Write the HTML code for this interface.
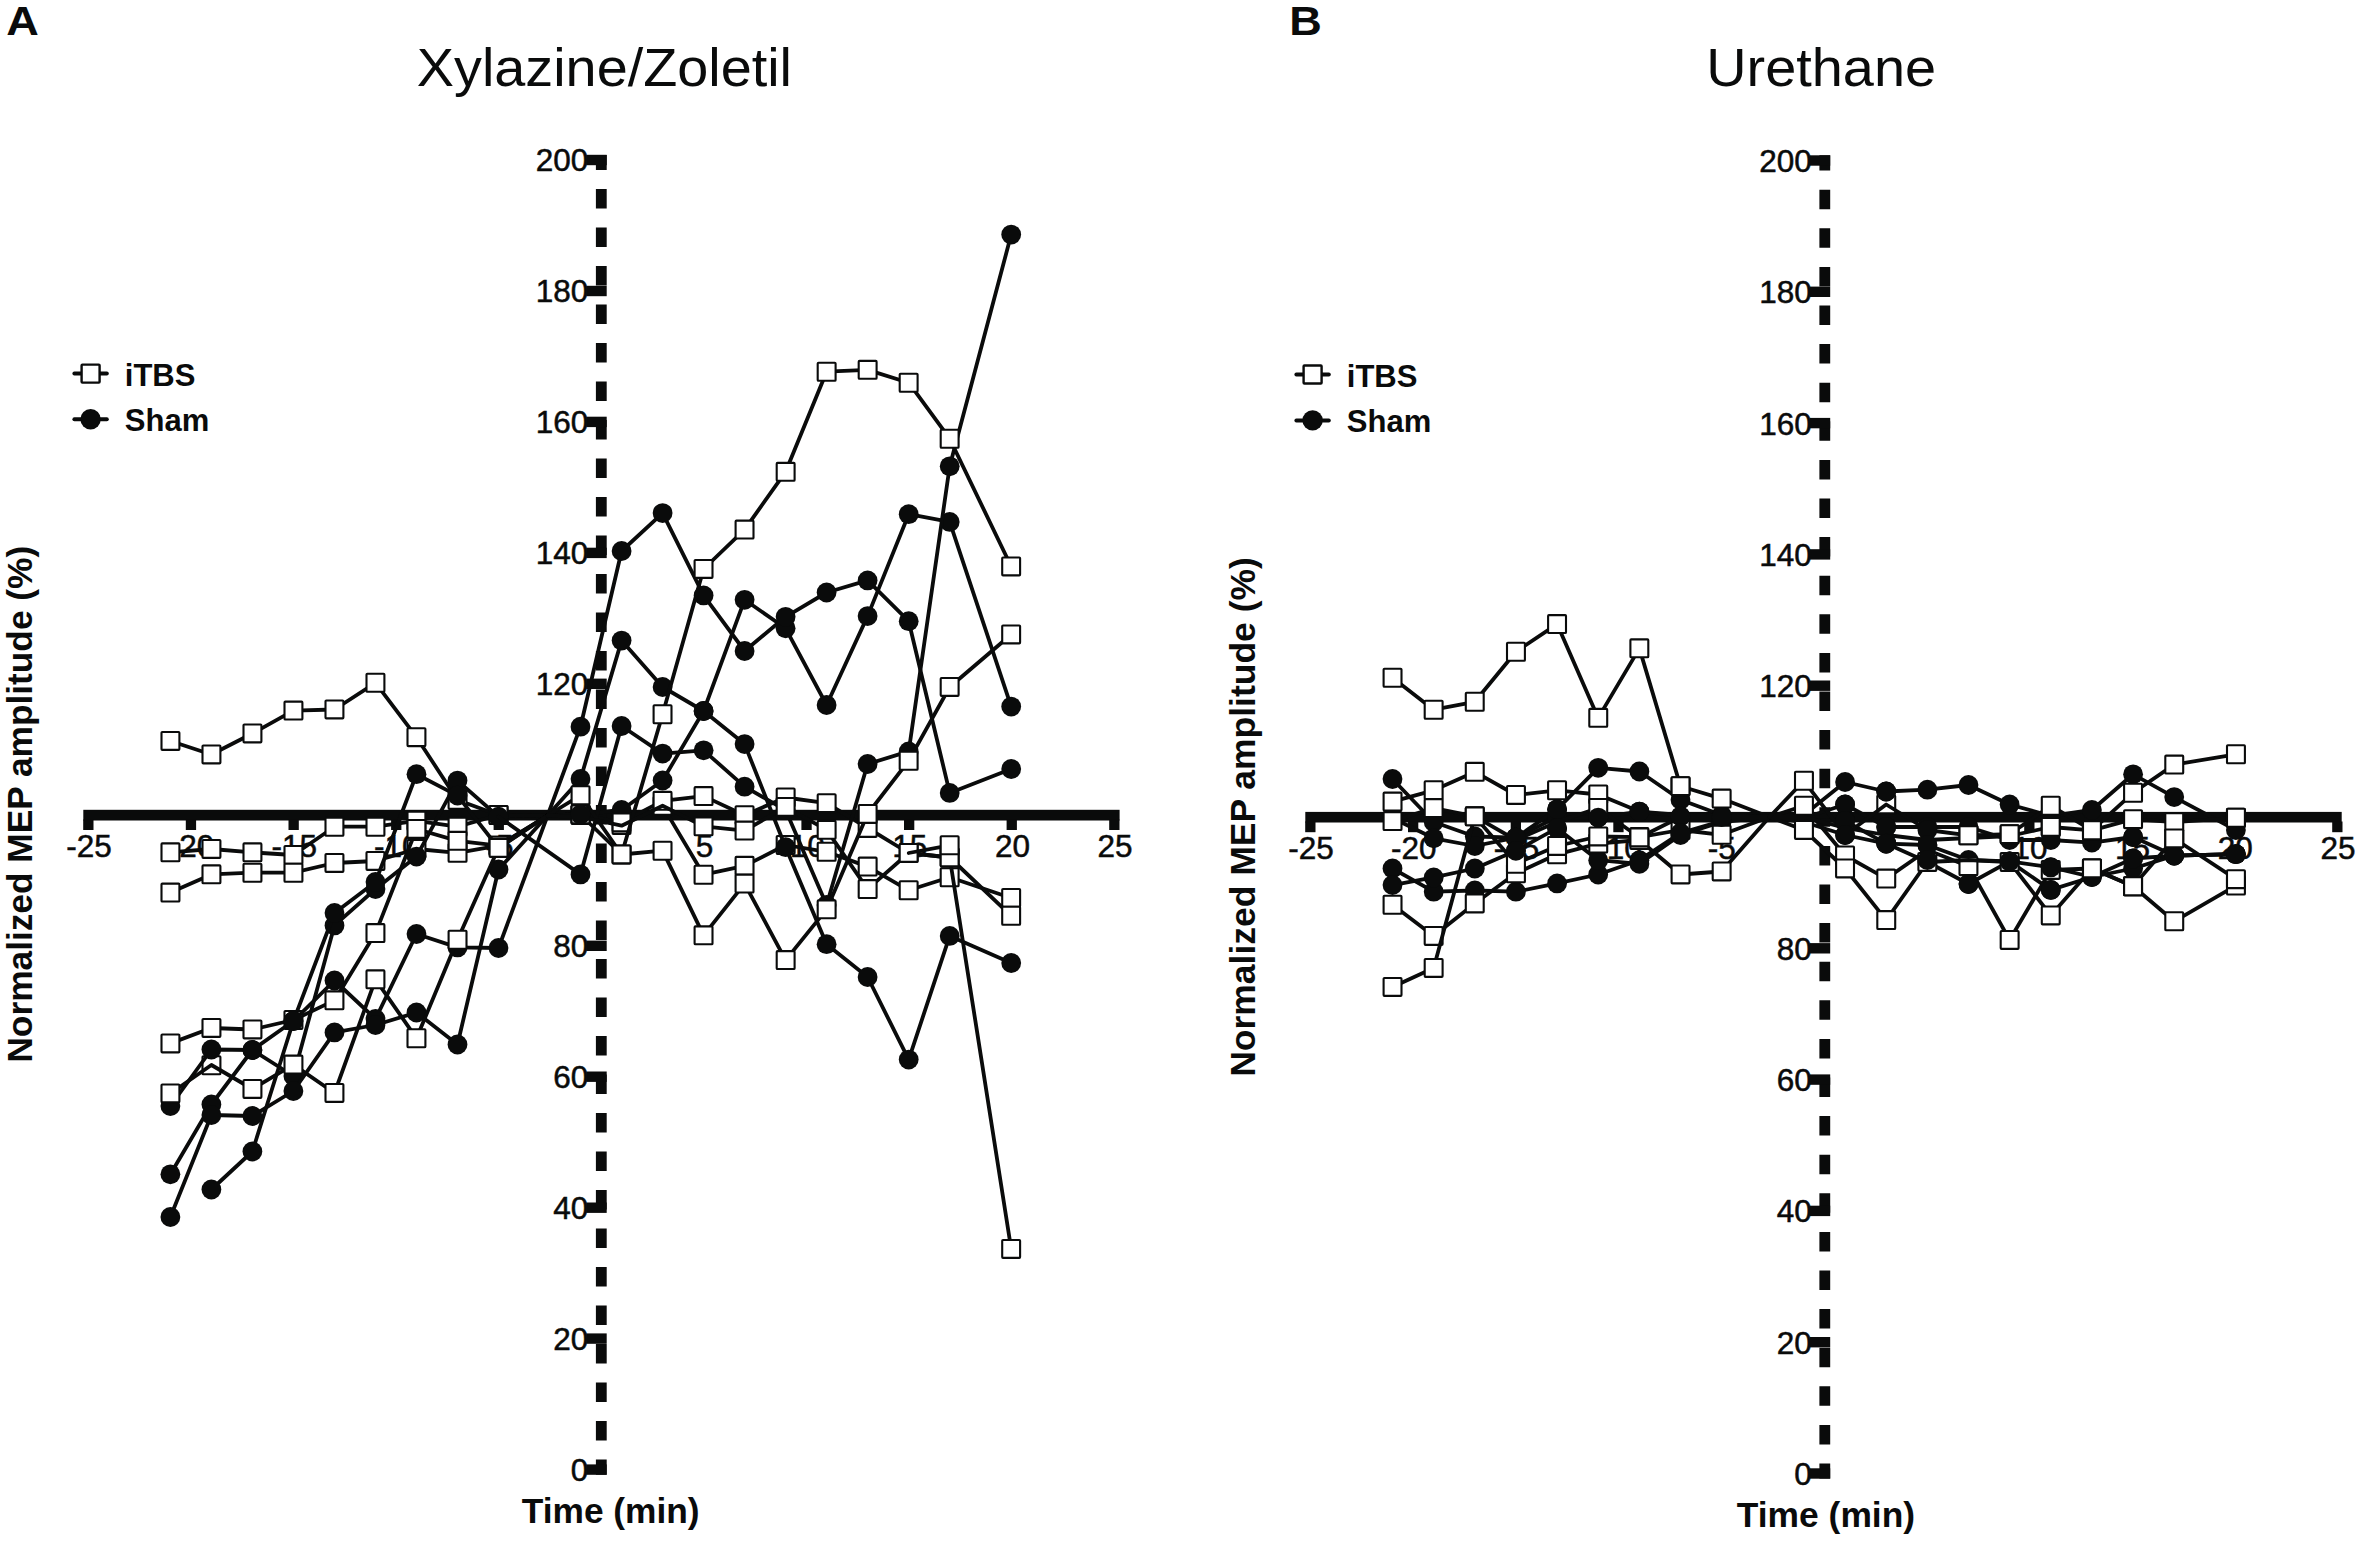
<!DOCTYPE html>
<html lang="en"><head><meta charset="utf-8"><title>Figure</title>
<style>html,body{margin:0;padding:0;background:#fff}body{width:2362px;height:1541px;position:relative;overflow:hidden}</style>
</head><body>
<svg width="2362" height="1541" viewBox="0 0 2362 1541" style="position:absolute;left:0;top:0">
<rect width="2362" height="1541" fill="#fff"/>
<g style="font-family:'Liberation Sans',sans-serif" fill="#0a0b0b">
<rect x="83.3" y="809.8" width="1036.3" height="10.7"/>
<rect x="83.2" y="819.5" width="10.3" height="10.5"/>
<text x="89.0" y="857.2" font-size="31.5" text-anchor="middle" stroke="#0a0b0b" stroke-width="0.5">-25</text>
<rect x="185.8" y="819.5" width="10.3" height="10.5"/>
<text x="191.6" y="857.2" font-size="31.5" text-anchor="middle" stroke="#0a0b0b" stroke-width="0.5">-20</text>
<rect x="288.5" y="819.5" width="10.3" height="10.5"/>
<text x="294.2" y="857.2" font-size="31.5" text-anchor="middle" stroke="#0a0b0b" stroke-width="0.5">-15</text>
<rect x="391.1" y="819.5" width="10.3" height="10.5"/>
<text x="396.8" y="857.2" font-size="31.5" text-anchor="middle" stroke="#0a0b0b" stroke-width="0.5">-10</text>
<rect x="493.6" y="819.5" width="10.3" height="10.5"/>
<text x="499.4" y="857.2" font-size="31.5" text-anchor="middle" stroke="#0a0b0b" stroke-width="0.5">-5</text>
<rect x="698.9" y="819.5" width="10.3" height="10.5"/>
<text x="704.6" y="857.2" font-size="31.5" text-anchor="middle" stroke="#0a0b0b" stroke-width="0.5">5</text>
<rect x="801.4" y="819.5" width="10.3" height="10.5"/>
<text x="807.2" y="857.2" font-size="31.5" text-anchor="middle" stroke="#0a0b0b" stroke-width="0.5">10</text>
<rect x="904.0" y="819.5" width="10.3" height="10.5"/>
<text x="909.8" y="857.2" font-size="31.5" text-anchor="middle" stroke="#0a0b0b" stroke-width="0.5">15</text>
<rect x="1006.6" y="819.5" width="10.3" height="10.5"/>
<text x="1012.4" y="857.2" font-size="31.5" text-anchor="middle" stroke="#0a0b0b" stroke-width="0.5">20</text>
<rect x="1109.2" y="819.5" width="10.3" height="10.5"/>
<text x="1115.0" y="857.2" font-size="31.5" text-anchor="middle" stroke="#0a0b0b" stroke-width="0.5">25</text>
<line x1="601.3" y1="154.9" x2="601.3" y2="1474.8" stroke="#0a0b0b" stroke-width="10.8" stroke-dasharray="19.5 19" stroke-dashoffset="4.4"/>
<rect x="586.2" y="1464.4" width="20.5" height="10.4"/>
<text x="588.2" y="1481.0" font-size="31.5" text-anchor="end" stroke="#0a0b0b" stroke-width="0.5">0</text>
<rect x="586.2" y="1333.4" width="20.5" height="10.4"/>
<text x="588.2" y="1350.0" font-size="31.5" text-anchor="end" stroke="#0a0b0b" stroke-width="0.5">20</text>
<rect x="586.2" y="1202.5" width="20.5" height="10.4"/>
<text x="588.2" y="1219.1" font-size="31.5" text-anchor="end" stroke="#0a0b0b" stroke-width="0.5">40</text>
<rect x="586.2" y="1071.5" width="20.5" height="10.4"/>
<text x="588.2" y="1088.1" font-size="31.5" text-anchor="end" stroke="#0a0b0b" stroke-width="0.5">60</text>
<rect x="586.2" y="940.6" width="20.5" height="10.4"/>
<text x="588.2" y="957.2" font-size="31.5" text-anchor="end" stroke="#0a0b0b" stroke-width="0.5">80</text>
<rect x="586.2" y="678.6" width="20.5" height="10.4"/>
<text x="588.2" y="695.2" font-size="31.5" text-anchor="end" stroke="#0a0b0b" stroke-width="0.5">120</text>
<rect x="586.2" y="547.7" width="20.5" height="10.4"/>
<text x="588.2" y="564.3" font-size="31.5" text-anchor="end" stroke="#0a0b0b" stroke-width="0.5">140</text>
<rect x="586.2" y="416.7" width="20.5" height="10.4"/>
<text x="588.2" y="433.3" font-size="31.5" text-anchor="end" stroke="#0a0b0b" stroke-width="0.5">160</text>
<rect x="586.2" y="285.8" width="20.5" height="10.4"/>
<text x="588.2" y="302.4" font-size="31.5" text-anchor="end" stroke="#0a0b0b" stroke-width="0.5">180</text>
<rect x="586.2" y="154.8" width="20.5" height="10.4"/>
<text x="588.2" y="171.4" font-size="31.5" text-anchor="end" stroke="#0a0b0b" stroke-width="0.5">200</text>
<rect x="1305.3" y="811.9" width="1036.4" height="10.6"/>
<rect x="1305.2" y="821.5" width="10.3" height="10.7"/>
<text x="1311.0" y="858.9" font-size="31.5" text-anchor="middle" stroke="#0a0b0b" stroke-width="0.5">-25</text>
<rect x="1408.0" y="821.5" width="10.3" height="10.7"/>
<text x="1413.7" y="858.9" font-size="31.5" text-anchor="middle" stroke="#0a0b0b" stroke-width="0.5">-20</text>
<rect x="1510.7" y="821.5" width="10.3" height="10.7"/>
<text x="1516.4" y="858.9" font-size="31.5" text-anchor="middle" stroke="#0a0b0b" stroke-width="0.5">-15</text>
<rect x="1613.3" y="821.5" width="10.3" height="10.7"/>
<text x="1619.1" y="858.9" font-size="31.5" text-anchor="middle" stroke="#0a0b0b" stroke-width="0.5">-10</text>
<rect x="1716.0" y="821.5" width="10.3" height="10.7"/>
<text x="1721.8" y="858.9" font-size="31.5" text-anchor="middle" stroke="#0a0b0b" stroke-width="0.5">-5</text>
<rect x="1921.4" y="821.5" width="10.3" height="10.7"/>
<text x="1927.2" y="858.9" font-size="31.5" text-anchor="middle" stroke="#0a0b0b" stroke-width="0.5">5</text>
<rect x="2024.2" y="821.5" width="10.3" height="10.7"/>
<text x="2029.9" y="858.9" font-size="31.5" text-anchor="middle" stroke="#0a0b0b" stroke-width="0.5">10</text>
<rect x="2126.8" y="821.5" width="10.3" height="10.7"/>
<text x="2132.6" y="858.9" font-size="31.5" text-anchor="middle" stroke="#0a0b0b" stroke-width="0.5">15</text>
<rect x="2229.5" y="821.5" width="10.3" height="10.7"/>
<text x="2235.3" y="858.9" font-size="31.5" text-anchor="middle" stroke="#0a0b0b" stroke-width="0.5">20</text>
<rect x="2332.2" y="821.5" width="10.3" height="10.7"/>
<text x="2338.0" y="858.9" font-size="31.5" text-anchor="middle" stroke="#0a0b0b" stroke-width="0.5">25</text>
<line x1="1824.8" y1="155.3" x2="1824.8" y2="1478.6" stroke="#0a0b0b" stroke-width="10.8" stroke-dasharray="19.5 19.1" stroke-dashoffset="4.2"/>
<rect x="1809.7" y="1468.3" width="20.5" height="10.4"/>
<text x="1811.7" y="1484.9" font-size="31.5" text-anchor="end" stroke="#0a0b0b" stroke-width="0.5">0</text>
<rect x="1809.7" y="1337.0" width="20.5" height="10.4"/>
<text x="1811.7" y="1353.6" font-size="31.5" text-anchor="end" stroke="#0a0b0b" stroke-width="0.5">20</text>
<rect x="1809.7" y="1205.7" width="20.5" height="10.4"/>
<text x="1811.7" y="1222.3" font-size="31.5" text-anchor="end" stroke="#0a0b0b" stroke-width="0.5">40</text>
<rect x="1809.7" y="1074.4" width="20.5" height="10.4"/>
<text x="1811.7" y="1091.0" font-size="31.5" text-anchor="end" stroke="#0a0b0b" stroke-width="0.5">60</text>
<rect x="1809.7" y="943.1" width="20.5" height="10.4"/>
<text x="1811.7" y="959.7" font-size="31.5" text-anchor="end" stroke="#0a0b0b" stroke-width="0.5">80</text>
<rect x="1809.7" y="680.5" width="20.5" height="10.4"/>
<text x="1811.7" y="697.1" font-size="31.5" text-anchor="end" stroke="#0a0b0b" stroke-width="0.5">120</text>
<rect x="1809.7" y="549.2" width="20.5" height="10.4"/>
<text x="1811.7" y="565.8" font-size="31.5" text-anchor="end" stroke="#0a0b0b" stroke-width="0.5">140</text>
<rect x="1809.7" y="417.9" width="20.5" height="10.4"/>
<text x="1811.7" y="434.5" font-size="31.5" text-anchor="end" stroke="#0a0b0b" stroke-width="0.5">160</text>
<rect x="1809.7" y="286.6" width="20.5" height="10.4"/>
<text x="1811.7" y="303.2" font-size="31.5" text-anchor="end" stroke="#0a0b0b" stroke-width="0.5">180</text>
<rect x="1809.7" y="155.3" width="20.5" height="10.4"/>
<text x="1811.7" y="171.9" font-size="31.5" text-anchor="end" stroke="#0a0b0b" stroke-width="0.5">200</text>
<text x="6.2" y="34.7" font-size="40" font-weight="bold" textLength="32.6" lengthAdjust="spacingAndGlyphs">A</text>
<text x="1289.2" y="34.7" font-size="40" font-weight="bold" textLength="32.6" lengthAdjust="spacingAndGlyphs">B</text>
<text x="416.8" y="85.8" font-size="54" textLength="375.2" lengthAdjust="spacingAndGlyphs">Xylazine/Zoletil</text>
<text x="1706.3" y="85.8" font-size="54" textLength="229.7" lengthAdjust="spacingAndGlyphs">Urethane</text>
<text x="521.8" y="1522.8" font-size="35" font-weight="bold" textLength="177.8" lengthAdjust="spacingAndGlyphs">Time (min)</text>
<text x="1736.8" y="1526.7" font-size="35" font-weight="bold" textLength="178.3" lengthAdjust="spacingAndGlyphs">Time (min)</text>
<text transform="translate(32.3,1062.6) rotate(-90)" font-size="35" font-weight="bold" textLength="516.8" lengthAdjust="spacingAndGlyphs">Normalized MEP amplitude (%)</text>
<text transform="translate(1254.5,1076.8) rotate(-90)" font-size="35" font-weight="bold" textLength="519.6" lengthAdjust="spacingAndGlyphs">Normalized MEP amplitude (%)</text>
<line x1="74.4" y1="373.6" x2="106.8" y2="373.6" stroke="#0a0b0b" stroke-width="4" stroke-linecap="round"/>
<rect x="81.6" y="364.6" width="18.0" height="18.0" rx="0.8" fill="#fff" stroke="#0a0b0b" stroke-width="2.4" stroke-linejoin="round"/>
<line x1="74.4" y1="419.2" x2="106.8" y2="419.2" stroke="#0a0b0b" stroke-width="4" stroke-linecap="round"/>
<circle cx="90.6" cy="419.2" r="10.2" fill="#0a0b0b"/>
<text x="124.8" y="385.9" font-size="31" font-weight="bold">iTBS</text>
<text x="124.8" y="431.0" font-size="31" font-weight="bold">Sham</text>
<line x1="1296.4" y1="374.5" x2="1328.8" y2="374.5" stroke="#0a0b0b" stroke-width="4" stroke-linecap="round"/>
<rect x="1303.6" y="365.5" width="18.0" height="18.0" rx="0.8" fill="#fff" stroke="#0a0b0b" stroke-width="2.4" stroke-linejoin="round"/>
<line x1="1296.4" y1="420.4" x2="1328.8" y2="420.4" stroke="#0a0b0b" stroke-width="4" stroke-linecap="round"/>
<circle cx="1312.6" cy="420.4" r="10.2" fill="#0a0b0b"/>
<text x="1346.8" y="386.8" font-size="31" font-weight="bold">iTBS</text>
<text x="1346.8" y="432.2" font-size="31" font-weight="bold">Sham</text>
<polyline points="211.4,1065.3" fill="none" stroke="#0a0b0b" stroke-width="3.8" stroke-linejoin="round" stroke-linecap="round"/>
<rect x="202.5" y="1056.3" width="17.9" height="17.9" rx="0.8" fill="#fff" stroke="#0a0b0b" stroke-width="2.1" stroke-linejoin="round"/>
<polyline points="170.4,741.0 211.4,754.5 252.4,733.5 293.4,710.6 334.5,709.5 375.5,682.8 416.5,737.2 457.5,800.0 498.5,815.0 547.6,815.5" fill="none" stroke="#0a0b0b" stroke-width="3.8" stroke-linejoin="round" stroke-linecap="round"/>
<rect x="161.5" y="732.0" width="17.9" height="17.9" rx="0.8" fill="#fff" stroke="#0a0b0b" stroke-width="2.1" stroke-linejoin="round"/>
<rect x="202.5" y="745.5" width="17.9" height="17.9" rx="0.8" fill="#fff" stroke="#0a0b0b" stroke-width="2.1" stroke-linejoin="round"/>
<rect x="243.5" y="724.5" width="17.9" height="17.9" rx="0.8" fill="#fff" stroke="#0a0b0b" stroke-width="2.1" stroke-linejoin="round"/>
<rect x="284.5" y="701.6" width="17.9" height="17.9" rx="0.8" fill="#fff" stroke="#0a0b0b" stroke-width="2.1" stroke-linejoin="round"/>
<rect x="325.5" y="700.5" width="17.9" height="17.9" rx="0.8" fill="#fff" stroke="#0a0b0b" stroke-width="2.1" stroke-linejoin="round"/>
<rect x="366.5" y="673.8" width="17.9" height="17.9" rx="0.8" fill="#fff" stroke="#0a0b0b" stroke-width="2.1" stroke-linejoin="round"/>
<rect x="407.5" y="728.2" width="17.9" height="17.9" rx="0.8" fill="#fff" stroke="#0a0b0b" stroke-width="2.1" stroke-linejoin="round"/>
<rect x="448.6" y="791.0" width="17.9" height="17.9" rx="0.8" fill="#fff" stroke="#0a0b0b" stroke-width="2.1" stroke-linejoin="round"/>
<rect x="489.6" y="806.0" width="17.9" height="17.9" rx="0.8" fill="#fff" stroke="#0a0b0b" stroke-width="2.1" stroke-linejoin="round"/>
<polyline points="170.4,852.4 211.4,849.0 252.4,852.4 293.4,855.0 334.5,826.7 375.5,826.7 416.5,820.8 457.5,826.7 498.5,815.0 547.6,815.5" fill="none" stroke="#0a0b0b" stroke-width="3.8" stroke-linejoin="round" stroke-linecap="round"/>
<rect x="161.5" y="843.4" width="17.9" height="17.9" rx="0.8" fill="#fff" stroke="#0a0b0b" stroke-width="2.1" stroke-linejoin="round"/>
<rect x="202.5" y="840.0" width="17.9" height="17.9" rx="0.8" fill="#fff" stroke="#0a0b0b" stroke-width="2.1" stroke-linejoin="round"/>
<rect x="243.5" y="843.4" width="17.9" height="17.9" rx="0.8" fill="#fff" stroke="#0a0b0b" stroke-width="2.1" stroke-linejoin="round"/>
<rect x="284.5" y="846.0" width="17.9" height="17.9" rx="0.8" fill="#fff" stroke="#0a0b0b" stroke-width="2.1" stroke-linejoin="round"/>
<rect x="325.5" y="817.8" width="17.9" height="17.9" rx="0.8" fill="#fff" stroke="#0a0b0b" stroke-width="2.1" stroke-linejoin="round"/>
<rect x="366.5" y="817.8" width="17.9" height="17.9" rx="0.8" fill="#fff" stroke="#0a0b0b" stroke-width="2.1" stroke-linejoin="round"/>
<rect x="407.5" y="811.8" width="17.9" height="17.9" rx="0.8" fill="#fff" stroke="#0a0b0b" stroke-width="2.1" stroke-linejoin="round"/>
<rect x="448.6" y="817.8" width="17.9" height="17.9" rx="0.8" fill="#fff" stroke="#0a0b0b" stroke-width="2.1" stroke-linejoin="round"/>
<rect x="489.6" y="806.0" width="17.9" height="17.9" rx="0.8" fill="#fff" stroke="#0a0b0b" stroke-width="2.1" stroke-linejoin="round"/>
<polyline points="170.4,892.6 211.4,874.4 252.4,872.7 293.4,872.7 334.5,863.0 375.5,861.0 416.5,849.0 457.5,852.8 498.5,845.7 547.6,815.5" fill="none" stroke="#0a0b0b" stroke-width="3.8" stroke-linejoin="round" stroke-linecap="round"/>
<rect x="161.5" y="883.6" width="17.9" height="17.9" rx="0.8" fill="#fff" stroke="#0a0b0b" stroke-width="2.1" stroke-linejoin="round"/>
<rect x="202.5" y="865.4" width="17.9" height="17.9" rx="0.8" fill="#fff" stroke="#0a0b0b" stroke-width="2.1" stroke-linejoin="round"/>
<rect x="243.5" y="863.8" width="17.9" height="17.9" rx="0.8" fill="#fff" stroke="#0a0b0b" stroke-width="2.1" stroke-linejoin="round"/>
<rect x="284.5" y="863.8" width="17.9" height="17.9" rx="0.8" fill="#fff" stroke="#0a0b0b" stroke-width="2.1" stroke-linejoin="round"/>
<rect x="325.5" y="854.0" width="17.9" height="17.9" rx="0.8" fill="#fff" stroke="#0a0b0b" stroke-width="2.1" stroke-linejoin="round"/>
<rect x="366.5" y="852.0" width="17.9" height="17.9" rx="0.8" fill="#fff" stroke="#0a0b0b" stroke-width="2.1" stroke-linejoin="round"/>
<rect x="407.5" y="840.0" width="17.9" height="17.9" rx="0.8" fill="#fff" stroke="#0a0b0b" stroke-width="2.1" stroke-linejoin="round"/>
<rect x="448.6" y="843.8" width="17.9" height="17.9" rx="0.8" fill="#fff" stroke="#0a0b0b" stroke-width="2.1" stroke-linejoin="round"/>
<rect x="489.6" y="836.8" width="17.9" height="17.9" rx="0.8" fill="#fff" stroke="#0a0b0b" stroke-width="2.1" stroke-linejoin="round"/>
<polyline points="170.4,1043.4 211.4,1028.0 252.4,1029.5 293.4,1020.0 334.5,1000.4 375.5,933.1 416.5,829.0 457.5,840.9 498.5,845.7 547.6,815.5" fill="none" stroke="#0a0b0b" stroke-width="3.8" stroke-linejoin="round" stroke-linecap="round"/>
<rect x="161.5" y="1034.5" width="17.9" height="17.9" rx="0.8" fill="#fff" stroke="#0a0b0b" stroke-width="2.1" stroke-linejoin="round"/>
<rect x="202.5" y="1019.0" width="17.9" height="17.9" rx="0.8" fill="#fff" stroke="#0a0b0b" stroke-width="2.1" stroke-linejoin="round"/>
<rect x="243.5" y="1020.5" width="17.9" height="17.9" rx="0.8" fill="#fff" stroke="#0a0b0b" stroke-width="2.1" stroke-linejoin="round"/>
<rect x="284.5" y="1011.0" width="17.9" height="17.9" rx="0.8" fill="#fff" stroke="#0a0b0b" stroke-width="2.1" stroke-linejoin="round"/>
<rect x="325.5" y="991.4" width="17.9" height="17.9" rx="0.8" fill="#fff" stroke="#0a0b0b" stroke-width="2.1" stroke-linejoin="round"/>
<rect x="366.5" y="924.1" width="17.9" height="17.9" rx="0.8" fill="#fff" stroke="#0a0b0b" stroke-width="2.1" stroke-linejoin="round"/>
<rect x="407.5" y="820.0" width="17.9" height="17.9" rx="0.8" fill="#fff" stroke="#0a0b0b" stroke-width="2.1" stroke-linejoin="round"/>
<rect x="448.6" y="831.9" width="17.9" height="17.9" rx="0.8" fill="#fff" stroke="#0a0b0b" stroke-width="2.1" stroke-linejoin="round"/>
<rect x="489.6" y="836.8" width="17.9" height="17.9" rx="0.8" fill="#fff" stroke="#0a0b0b" stroke-width="2.1" stroke-linejoin="round"/>
<polyline points="547.6,815.5 580.5,814.5 621.6,810.0 662.6,780.5 703.6,711.0 744.6,599.8 785.6,628.3 826.6,705.0 867.6,616.1 908.7,514.2 949.7,521.9 1011.2,706.6" fill="none" stroke="#0a0b0b" stroke-width="3.8" stroke-linejoin="round" stroke-linecap="round"/>
<circle cx="580.5" cy="814.5" r="9.9" fill="#0a0b0b"/>
<circle cx="621.6" cy="810.0" r="9.9" fill="#0a0b0b"/>
<circle cx="662.6" cy="780.5" r="9.9" fill="#0a0b0b"/>
<circle cx="703.6" cy="711.0" r="9.9" fill="#0a0b0b"/>
<circle cx="744.6" cy="599.8" r="9.9" fill="#0a0b0b"/>
<circle cx="785.6" cy="628.3" r="9.9" fill="#0a0b0b"/>
<circle cx="826.6" cy="705.0" r="9.9" fill="#0a0b0b"/>
<circle cx="867.6" cy="616.1" r="9.9" fill="#0a0b0b"/>
<circle cx="908.7" cy="514.2" r="9.9" fill="#0a0b0b"/>
<circle cx="949.7" cy="521.9" r="9.9" fill="#0a0b0b"/>
<circle cx="1011.2" cy="706.6" r="9.9" fill="#0a0b0b"/>
<polyline points="547.6,815.5 580.5,726.7 621.6,551.0 662.6,513.1 703.6,595.4 744.6,651.0 785.6,616.8 826.6,592.5 867.6,580.4 908.7,621.2 949.7,792.9 1011.2,769.0" fill="none" stroke="#0a0b0b" stroke-width="3.8" stroke-linejoin="round" stroke-linecap="round"/>
<circle cx="580.5" cy="726.7" r="9.9" fill="#0a0b0b"/>
<circle cx="621.6" cy="551.0" r="9.9" fill="#0a0b0b"/>
<circle cx="662.6" cy="513.1" r="9.9" fill="#0a0b0b"/>
<circle cx="703.6" cy="595.4" r="9.9" fill="#0a0b0b"/>
<circle cx="744.6" cy="651.0" r="9.9" fill="#0a0b0b"/>
<circle cx="785.6" cy="616.8" r="9.9" fill="#0a0b0b"/>
<circle cx="826.6" cy="592.5" r="9.9" fill="#0a0b0b"/>
<circle cx="867.6" cy="580.4" r="9.9" fill="#0a0b0b"/>
<circle cx="908.7" cy="621.2" r="9.9" fill="#0a0b0b"/>
<circle cx="949.7" cy="792.9" r="9.9" fill="#0a0b0b"/>
<circle cx="1011.2" cy="769.0" r="9.9" fill="#0a0b0b"/>
<polyline points="547.6,815.5 580.5,815.0 621.6,825.0 662.6,805.9 703.6,874.7 744.6,865.9 785.6,845.0 826.6,851.8 867.6,866.6 908.7,890.3 949.7,877.3 1011.2,898.0" fill="none" stroke="#0a0b0b" stroke-width="3.8" stroke-linejoin="round" stroke-linecap="round"/>
<rect x="571.6" y="806.0" width="17.9" height="17.9" rx="0.8" fill="#fff" stroke="#0a0b0b" stroke-width="2.1" stroke-linejoin="round"/>
<rect x="612.6" y="816.0" width="17.9" height="17.9" rx="0.8" fill="#fff" stroke="#0a0b0b" stroke-width="2.1" stroke-linejoin="round"/>
<rect x="653.6" y="796.9" width="17.9" height="17.9" rx="0.8" fill="#fff" stroke="#0a0b0b" stroke-width="2.1" stroke-linejoin="round"/>
<rect x="694.6" y="865.8" width="17.9" height="17.9" rx="0.8" fill="#fff" stroke="#0a0b0b" stroke-width="2.1" stroke-linejoin="round"/>
<rect x="735.6" y="856.9" width="17.9" height="17.9" rx="0.8" fill="#fff" stroke="#0a0b0b" stroke-width="2.1" stroke-linejoin="round"/>
<rect x="776.7" y="836.0" width="17.9" height="17.9" rx="0.8" fill="#fff" stroke="#0a0b0b" stroke-width="2.1" stroke-linejoin="round"/>
<rect x="817.7" y="842.8" width="17.9" height="17.9" rx="0.8" fill="#fff" stroke="#0a0b0b" stroke-width="2.1" stroke-linejoin="round"/>
<rect x="858.7" y="857.6" width="17.9" height="17.9" rx="0.8" fill="#fff" stroke="#0a0b0b" stroke-width="2.1" stroke-linejoin="round"/>
<rect x="899.7" y="881.3" width="17.9" height="17.9" rx="0.8" fill="#fff" stroke="#0a0b0b" stroke-width="2.1" stroke-linejoin="round"/>
<rect x="940.7" y="868.3" width="17.9" height="17.9" rx="0.8" fill="#fff" stroke="#0a0b0b" stroke-width="2.1" stroke-linejoin="round"/>
<rect x="1002.2" y="889.0" width="17.9" height="17.9" rx="0.8" fill="#fff" stroke="#0a0b0b" stroke-width="2.1" stroke-linejoin="round"/>
<polyline points="547.6,815.5 580.5,814.5 621.6,822.5 662.6,800.9 703.6,796.1 744.6,815.2 785.6,797.5 826.6,803.2 867.6,828.0 908.7,853.0 949.7,857.5 1011.2,1249.0" fill="none" stroke="#0a0b0b" stroke-width="3.8" stroke-linejoin="round" stroke-linecap="round"/>
<rect x="571.6" y="805.5" width="17.9" height="17.9" rx="0.8" fill="#fff" stroke="#0a0b0b" stroke-width="2.1" stroke-linejoin="round"/>
<rect x="612.6" y="813.5" width="17.9" height="17.9" rx="0.8" fill="#fff" stroke="#0a0b0b" stroke-width="2.1" stroke-linejoin="round"/>
<rect x="653.6" y="791.9" width="17.9" height="17.9" rx="0.8" fill="#fff" stroke="#0a0b0b" stroke-width="2.1" stroke-linejoin="round"/>
<rect x="694.6" y="787.1" width="17.9" height="17.9" rx="0.8" fill="#fff" stroke="#0a0b0b" stroke-width="2.1" stroke-linejoin="round"/>
<rect x="735.6" y="806.2" width="17.9" height="17.9" rx="0.8" fill="#fff" stroke="#0a0b0b" stroke-width="2.1" stroke-linejoin="round"/>
<rect x="776.7" y="788.5" width="17.9" height="17.9" rx="0.8" fill="#fff" stroke="#0a0b0b" stroke-width="2.1" stroke-linejoin="round"/>
<rect x="817.7" y="794.2" width="17.9" height="17.9" rx="0.8" fill="#fff" stroke="#0a0b0b" stroke-width="2.1" stroke-linejoin="round"/>
<rect x="858.7" y="819.0" width="17.9" height="17.9" rx="0.8" fill="#fff" stroke="#0a0b0b" stroke-width="2.1" stroke-linejoin="round"/>
<rect x="899.7" y="844.0" width="17.9" height="17.9" rx="0.8" fill="#fff" stroke="#0a0b0b" stroke-width="2.1" stroke-linejoin="round"/>
<rect x="940.7" y="848.5" width="17.9" height="17.9" rx="0.8" fill="#fff" stroke="#0a0b0b" stroke-width="2.1" stroke-linejoin="round"/>
<rect x="1002.2" y="1240.0" width="17.9" height="17.9" rx="0.8" fill="#fff" stroke="#0a0b0b" stroke-width="2.1" stroke-linejoin="round"/>
<polyline points="170.4,1106.0 211.4,1049.5 252.4,1050.0 293.4,1076.0 334.5,925.4 375.5,889.0 416.5,856.6 457.5,780.6 498.5,816.7" fill="none" stroke="#0a0b0b" stroke-width="3.8" stroke-linejoin="round" stroke-linecap="round"/>
<circle cx="170.4" cy="1106.0" r="9.9" fill="#0a0b0b"/>
<circle cx="211.4" cy="1049.5" r="9.9" fill="#0a0b0b"/>
<circle cx="252.4" cy="1050.0" r="9.9" fill="#0a0b0b"/>
<circle cx="293.4" cy="1076.0" r="9.9" fill="#0a0b0b"/>
<circle cx="334.5" cy="925.4" r="9.9" fill="#0a0b0b"/>
<circle cx="375.5" cy="889.0" r="9.9" fill="#0a0b0b"/>
<circle cx="416.5" cy="856.6" r="9.9" fill="#0a0b0b"/>
<circle cx="457.5" cy="780.6" r="9.9" fill="#0a0b0b"/>
<circle cx="498.5" cy="816.7" r="9.9" fill="#0a0b0b"/>
<polyline points="170.4,1174.3 211.4,1104.5 252.4,1050.0 293.4,1021.0 334.5,980.5 375.5,1019.0 416.5,934.0 457.5,947.4 498.5,948.0 547.6,815.5" fill="none" stroke="#0a0b0b" stroke-width="3.8" stroke-linejoin="round" stroke-linecap="round"/>
<circle cx="170.4" cy="1174.3" r="9.9" fill="#0a0b0b"/>
<circle cx="211.4" cy="1104.5" r="9.9" fill="#0a0b0b"/>
<circle cx="252.4" cy="1050.0" r="9.9" fill="#0a0b0b"/>
<circle cx="293.4" cy="1021.0" r="9.9" fill="#0a0b0b"/>
<circle cx="334.5" cy="980.5" r="9.9" fill="#0a0b0b"/>
<circle cx="375.5" cy="1019.0" r="9.9" fill="#0a0b0b"/>
<circle cx="416.5" cy="934.0" r="9.9" fill="#0a0b0b"/>
<circle cx="457.5" cy="947.4" r="9.9" fill="#0a0b0b"/>
<circle cx="498.5" cy="948.0" r="9.9" fill="#0a0b0b"/>
<polyline points="211.4,1189.5 252.4,1151.5 293.4,1021.0 334.5,913.0 375.5,882.0 416.5,774.2 457.5,795.6 498.5,848.0 547.6,815.5" fill="none" stroke="#0a0b0b" stroke-width="3.8" stroke-linejoin="round" stroke-linecap="round"/>
<circle cx="211.4" cy="1189.5" r="9.9" fill="#0a0b0b"/>
<circle cx="252.4" cy="1151.5" r="9.9" fill="#0a0b0b"/>
<circle cx="293.4" cy="1021.0" r="9.9" fill="#0a0b0b"/>
<circle cx="334.5" cy="913.0" r="9.9" fill="#0a0b0b"/>
<circle cx="375.5" cy="882.0" r="9.9" fill="#0a0b0b"/>
<circle cx="416.5" cy="774.2" r="9.9" fill="#0a0b0b"/>
<circle cx="457.5" cy="795.6" r="9.9" fill="#0a0b0b"/>
<circle cx="498.5" cy="848.0" r="9.9" fill="#0a0b0b"/>
<polyline points="170.4,1217.0 211.4,1115.0 252.4,1116.0 293.4,1091.0 334.5,1032.4 375.5,1025.0 416.5,1012.5 457.5,1044.5 498.5,869.5 547.6,815.5" fill="none" stroke="#0a0b0b" stroke-width="3.8" stroke-linejoin="round" stroke-linecap="round"/>
<circle cx="170.4" cy="1217.0" r="9.9" fill="#0a0b0b"/>
<circle cx="211.4" cy="1115.0" r="9.9" fill="#0a0b0b"/>
<circle cx="252.4" cy="1116.0" r="9.9" fill="#0a0b0b"/>
<circle cx="293.4" cy="1091.0" r="9.9" fill="#0a0b0b"/>
<circle cx="334.5" cy="1032.4" r="9.9" fill="#0a0b0b"/>
<circle cx="375.5" cy="1025.0" r="9.9" fill="#0a0b0b"/>
<circle cx="416.5" cy="1012.5" r="9.9" fill="#0a0b0b"/>
<circle cx="457.5" cy="1044.5" r="9.9" fill="#0a0b0b"/>
<circle cx="498.5" cy="869.5" r="9.9" fill="#0a0b0b"/>
<polyline points="547.6,815.5 580.5,779.0 621.6,640.6 662.6,687.0 703.6,711.0 744.6,744.1 785.6,847.2 826.6,944.2 867.6,977.0 908.7,1059.6 949.7,935.9 1011.2,963.0" fill="none" stroke="#0a0b0b" stroke-width="3.8" stroke-linejoin="round" stroke-linecap="round"/>
<circle cx="580.5" cy="779.0" r="9.9" fill="#0a0b0b"/>
<circle cx="621.6" cy="640.6" r="9.9" fill="#0a0b0b"/>
<circle cx="662.6" cy="687.0" r="9.9" fill="#0a0b0b"/>
<circle cx="703.6" cy="711.0" r="9.9" fill="#0a0b0b"/>
<circle cx="744.6" cy="744.1" r="9.9" fill="#0a0b0b"/>
<circle cx="785.6" cy="847.2" r="9.9" fill="#0a0b0b"/>
<circle cx="826.6" cy="944.2" r="9.9" fill="#0a0b0b"/>
<circle cx="867.6" cy="977.0" r="9.9" fill="#0a0b0b"/>
<circle cx="908.7" cy="1059.6" r="9.9" fill="#0a0b0b"/>
<circle cx="949.7" cy="935.9" r="9.9" fill="#0a0b0b"/>
<circle cx="1011.2" cy="963.0" r="9.9" fill="#0a0b0b"/>
<polyline points="498.5,816.7 580.5,874.4 621.6,726.0 662.6,753.6 703.6,750.3 744.6,786.7 785.6,810.0 826.6,905.0 867.6,764.0 908.7,751.4 949.7,466.3 1011.2,234.6" fill="none" stroke="#0a0b0b" stroke-width="3.8" stroke-linejoin="round" stroke-linecap="round"/>
<circle cx="580.5" cy="874.4" r="9.9" fill="#0a0b0b"/>
<circle cx="621.6" cy="726.0" r="9.9" fill="#0a0b0b"/>
<circle cx="662.6" cy="753.6" r="9.9" fill="#0a0b0b"/>
<circle cx="703.6" cy="750.3" r="9.9" fill="#0a0b0b"/>
<circle cx="744.6" cy="786.7" r="9.9" fill="#0a0b0b"/>
<circle cx="785.6" cy="810.0" r="9.9" fill="#0a0b0b"/>
<circle cx="826.6" cy="905.0" r="9.9" fill="#0a0b0b"/>
<circle cx="867.6" cy="764.0" r="9.9" fill="#0a0b0b"/>
<circle cx="908.7" cy="751.4" r="9.9" fill="#0a0b0b"/>
<circle cx="949.7" cy="466.3" r="9.9" fill="#0a0b0b"/>
<circle cx="1011.2" cy="234.6" r="9.9" fill="#0a0b0b"/>
<polyline points="170.4,1093.5 211.4,1065.0 252.4,1089.0 293.4,1064.6 334.5,1093.0 375.5,979.4 416.5,1038.3 457.5,939.7 498.5,848.0 547.6,815.5" fill="none" stroke="#0a0b0b" stroke-width="3.8" stroke-linejoin="round" stroke-linecap="round"/>
<rect x="161.5" y="1084.5" width="17.9" height="17.9" rx="0.8" fill="#fff" stroke="#0a0b0b" stroke-width="2.1" stroke-linejoin="round"/>
<rect x="243.5" y="1080.0" width="17.9" height="17.9" rx="0.8" fill="#fff" stroke="#0a0b0b" stroke-width="2.1" stroke-linejoin="round"/>
<rect x="284.5" y="1055.6" width="17.9" height="17.9" rx="0.8" fill="#fff" stroke="#0a0b0b" stroke-width="2.1" stroke-linejoin="round"/>
<rect x="325.5" y="1084.0" width="17.9" height="17.9" rx="0.8" fill="#fff" stroke="#0a0b0b" stroke-width="2.1" stroke-linejoin="round"/>
<rect x="366.5" y="970.4" width="17.9" height="17.9" rx="0.8" fill="#fff" stroke="#0a0b0b" stroke-width="2.1" stroke-linejoin="round"/>
<rect x="407.5" y="1029.3" width="17.9" height="17.9" rx="0.8" fill="#fff" stroke="#0a0b0b" stroke-width="2.1" stroke-linejoin="round"/>
<rect x="448.6" y="930.8" width="17.9" height="17.9" rx="0.8" fill="#fff" stroke="#0a0b0b" stroke-width="2.1" stroke-linejoin="round"/>
<rect x="489.6" y="839.0" width="17.9" height="17.9" rx="0.8" fill="#fff" stroke="#0a0b0b" stroke-width="2.1" stroke-linejoin="round"/>
<polyline points="547.6,815.5 580.5,814.5 621.6,854.5 662.6,850.7 703.6,935.4 744.6,883.6 785.6,960.1 826.6,909.4 867.6,814.0 908.7,760.7 949.7,687.0 1011.2,634.5" fill="none" stroke="#0a0b0b" stroke-width="3.8" stroke-linejoin="round" stroke-linecap="round"/>
<rect x="571.6" y="805.5" width="17.9" height="17.9" rx="0.8" fill="#fff" stroke="#0a0b0b" stroke-width="2.1" stroke-linejoin="round"/>
<rect x="612.6" y="845.5" width="17.9" height="17.9" rx="0.8" fill="#fff" stroke="#0a0b0b" stroke-width="2.1" stroke-linejoin="round"/>
<rect x="653.6" y="841.8" width="17.9" height="17.9" rx="0.8" fill="#fff" stroke="#0a0b0b" stroke-width="2.1" stroke-linejoin="round"/>
<rect x="694.6" y="926.4" width="17.9" height="17.9" rx="0.8" fill="#fff" stroke="#0a0b0b" stroke-width="2.1" stroke-linejoin="round"/>
<rect x="735.6" y="874.6" width="17.9" height="17.9" rx="0.8" fill="#fff" stroke="#0a0b0b" stroke-width="2.1" stroke-linejoin="round"/>
<rect x="776.7" y="951.1" width="17.9" height="17.9" rx="0.8" fill="#fff" stroke="#0a0b0b" stroke-width="2.1" stroke-linejoin="round"/>
<rect x="817.7" y="900.4" width="17.9" height="17.9" rx="0.8" fill="#fff" stroke="#0a0b0b" stroke-width="2.1" stroke-linejoin="round"/>
<rect x="858.7" y="805.0" width="17.9" height="17.9" rx="0.8" fill="#fff" stroke="#0a0b0b" stroke-width="2.1" stroke-linejoin="round"/>
<rect x="899.7" y="751.8" width="17.9" height="17.9" rx="0.8" fill="#fff" stroke="#0a0b0b" stroke-width="2.1" stroke-linejoin="round"/>
<rect x="940.7" y="678.0" width="17.9" height="17.9" rx="0.8" fill="#fff" stroke="#0a0b0b" stroke-width="2.1" stroke-linejoin="round"/>
<rect x="1002.2" y="625.5" width="17.9" height="17.9" rx="0.8" fill="#fff" stroke="#0a0b0b" stroke-width="2.1" stroke-linejoin="round"/>
<polyline points="547.6,815.5 580.5,795.3 621.6,854.5 662.6,714.3 703.6,569.0 744.6,529.6 785.6,471.8 826.6,371.7 867.6,369.9 908.7,382.7 949.7,438.7 1011.2,566.5" fill="none" stroke="#0a0b0b" stroke-width="3.8" stroke-linejoin="round" stroke-linecap="round"/>
<rect x="571.6" y="786.3" width="17.9" height="17.9" rx="0.8" fill="#fff" stroke="#0a0b0b" stroke-width="2.1" stroke-linejoin="round"/>
<rect x="612.6" y="845.5" width="17.9" height="17.9" rx="0.8" fill="#fff" stroke="#0a0b0b" stroke-width="2.1" stroke-linejoin="round"/>
<rect x="653.6" y="705.3" width="17.9" height="17.9" rx="0.8" fill="#fff" stroke="#0a0b0b" stroke-width="2.1" stroke-linejoin="round"/>
<rect x="694.6" y="560.0" width="17.9" height="17.9" rx="0.8" fill="#fff" stroke="#0a0b0b" stroke-width="2.1" stroke-linejoin="round"/>
<rect x="735.6" y="520.6" width="17.9" height="17.9" rx="0.8" fill="#fff" stroke="#0a0b0b" stroke-width="2.1" stroke-linejoin="round"/>
<rect x="776.7" y="462.9" width="17.9" height="17.9" rx="0.8" fill="#fff" stroke="#0a0b0b" stroke-width="2.1" stroke-linejoin="round"/>
<rect x="817.7" y="362.8" width="17.9" height="17.9" rx="0.8" fill="#fff" stroke="#0a0b0b" stroke-width="2.1" stroke-linejoin="round"/>
<rect x="858.7" y="360.9" width="17.9" height="17.9" rx="0.8" fill="#fff" stroke="#0a0b0b" stroke-width="2.1" stroke-linejoin="round"/>
<rect x="899.7" y="373.8" width="17.9" height="17.9" rx="0.8" fill="#fff" stroke="#0a0b0b" stroke-width="2.1" stroke-linejoin="round"/>
<rect x="940.7" y="429.8" width="17.9" height="17.9" rx="0.8" fill="#fff" stroke="#0a0b0b" stroke-width="2.1" stroke-linejoin="round"/>
<rect x="1002.2" y="557.5" width="17.9" height="17.9" rx="0.8" fill="#fff" stroke="#0a0b0b" stroke-width="2.1" stroke-linejoin="round"/>
<polyline points="547.6,815.5 580.5,817.0 621.6,825.7 662.6,805.7 703.6,826.4 744.6,830.6 785.6,807.0 826.6,829.9 867.6,889.1 908.7,853.0 949.7,857.5 1011.2,915.8" fill="none" stroke="#0a0b0b" stroke-width="3.8" stroke-linejoin="round" stroke-linecap="round"/>
<rect x="694.6" y="817.4" width="17.9" height="17.9" rx="0.8" fill="#fff" stroke="#0a0b0b" stroke-width="2.1" stroke-linejoin="round"/>
<rect x="735.6" y="821.6" width="17.9" height="17.9" rx="0.8" fill="#fff" stroke="#0a0b0b" stroke-width="2.1" stroke-linejoin="round"/>
<rect x="776.7" y="798.0" width="17.9" height="17.9" rx="0.8" fill="#fff" stroke="#0a0b0b" stroke-width="2.1" stroke-linejoin="round"/>
<rect x="817.7" y="820.9" width="17.9" height="17.9" rx="0.8" fill="#fff" stroke="#0a0b0b" stroke-width="2.1" stroke-linejoin="round"/>
<rect x="858.7" y="880.1" width="17.9" height="17.9" rx="0.8" fill="#fff" stroke="#0a0b0b" stroke-width="2.1" stroke-linejoin="round"/>
<rect x="899.7" y="844.0" width="17.9" height="17.9" rx="0.8" fill="#fff" stroke="#0a0b0b" stroke-width="2.1" stroke-linejoin="round"/>
<rect x="940.7" y="848.5" width="17.9" height="17.9" rx="0.8" fill="#fff" stroke="#0a0b0b" stroke-width="2.1" stroke-linejoin="round"/>
<rect x="1002.2" y="906.8" width="17.9" height="17.9" rx="0.8" fill="#fff" stroke="#0a0b0b" stroke-width="2.1" stroke-linejoin="round"/>
<polyline points="908.7,853.0 949.7,845.3" fill="none" stroke="#0a0b0b" stroke-width="3.8" stroke-linejoin="round" stroke-linecap="round"/>
<rect x="940.7" y="836.3" width="17.9" height="17.9" rx="0.8" fill="#fff" stroke="#0a0b0b" stroke-width="2.1" stroke-linejoin="round"/>
<polyline points="1886.2,804.5" fill="none" stroke="#0a0b0b" stroke-width="3.8" stroke-linejoin="round" stroke-linecap="round"/>
<rect x="1877.3" y="795.5" width="17.9" height="17.9" rx="0.8" fill="#fff" stroke="#0a0b0b" stroke-width="2.1" stroke-linejoin="round"/>
<polyline points="1392.5,779.0 1433.7,822.0 1474.8,836.5 1515.9,837.7 1557.1,809.3 1598.2,767.8 1639.4,771.5 1680.5,799.8 1721.6,815.0 1769.5,817.0" fill="none" stroke="#0a0b0b" stroke-width="3.8" stroke-linejoin="round" stroke-linecap="round"/>
<circle cx="1392.5" cy="779.0" r="9.9" fill="#0a0b0b"/>
<circle cx="1433.7" cy="822.0" r="9.9" fill="#0a0b0b"/>
<circle cx="1474.8" cy="836.5" r="9.9" fill="#0a0b0b"/>
<circle cx="1515.9" cy="837.7" r="9.9" fill="#0a0b0b"/>
<circle cx="1557.1" cy="809.3" r="9.9" fill="#0a0b0b"/>
<circle cx="1598.2" cy="767.8" r="9.9" fill="#0a0b0b"/>
<circle cx="1639.4" cy="771.5" r="9.9" fill="#0a0b0b"/>
<circle cx="1680.5" cy="799.8" r="9.9" fill="#0a0b0b"/>
<circle cx="1721.6" cy="815.0" r="9.9" fill="#0a0b0b"/>
<polyline points="1392.5,868.5 1433.7,891.7 1474.8,890.5 1515.9,891.7 1557.1,883.4 1598.2,874.5 1639.4,860.2 1680.5,833.0 1721.6,821.0 1769.5,817.0" fill="none" stroke="#0a0b0b" stroke-width="3.8" stroke-linejoin="round" stroke-linecap="round"/>
<circle cx="1392.5" cy="868.5" r="9.9" fill="#0a0b0b"/>
<circle cx="1433.7" cy="891.7" r="9.9" fill="#0a0b0b"/>
<circle cx="1474.8" cy="890.5" r="9.9" fill="#0a0b0b"/>
<circle cx="1515.9" cy="891.7" r="9.9" fill="#0a0b0b"/>
<circle cx="1557.1" cy="883.4" r="9.9" fill="#0a0b0b"/>
<circle cx="1598.2" cy="874.5" r="9.9" fill="#0a0b0b"/>
<circle cx="1639.4" cy="860.2" r="9.9" fill="#0a0b0b"/>
<circle cx="1680.5" cy="833.0" r="9.9" fill="#0a0b0b"/>
<circle cx="1721.6" cy="821.0" r="9.9" fill="#0a0b0b"/>
<polyline points="1392.5,885.1 1433.7,877.4 1474.8,868.5 1515.9,850.8 1557.1,828.2 1598.2,860.2 1639.4,863.8 1680.5,835.0 1721.6,822.0 1769.5,817.0" fill="none" stroke="#0a0b0b" stroke-width="3.8" stroke-linejoin="round" stroke-linecap="round"/>
<circle cx="1392.5" cy="885.1" r="9.9" fill="#0a0b0b"/>
<circle cx="1433.7" cy="877.4" r="9.9" fill="#0a0b0b"/>
<circle cx="1474.8" cy="868.5" r="9.9" fill="#0a0b0b"/>
<circle cx="1515.9" cy="850.8" r="9.9" fill="#0a0b0b"/>
<circle cx="1557.1" cy="828.2" r="9.9" fill="#0a0b0b"/>
<circle cx="1598.2" cy="860.2" r="9.9" fill="#0a0b0b"/>
<circle cx="1639.4" cy="863.8" r="9.9" fill="#0a0b0b"/>
<circle cx="1680.5" cy="835.0" r="9.9" fill="#0a0b0b"/>
<circle cx="1721.6" cy="822.0" r="9.9" fill="#0a0b0b"/>
<polyline points="1392.5,818.0 1433.7,838.3 1474.8,846.0 1515.9,837.7 1557.1,817.0 1598.2,817.6 1639.4,811.6 1680.5,816.4 1721.6,817.0 1769.5,817.0" fill="none" stroke="#0a0b0b" stroke-width="3.8" stroke-linejoin="round" stroke-linecap="round"/>
<circle cx="1392.5" cy="818.0" r="9.9" fill="#0a0b0b"/>
<circle cx="1433.7" cy="838.3" r="9.9" fill="#0a0b0b"/>
<circle cx="1474.8" cy="846.0" r="9.9" fill="#0a0b0b"/>
<circle cx="1515.9" cy="837.7" r="9.9" fill="#0a0b0b"/>
<circle cx="1557.1" cy="817.0" r="9.9" fill="#0a0b0b"/>
<circle cx="1598.2" cy="817.6" r="9.9" fill="#0a0b0b"/>
<circle cx="1639.4" cy="811.6" r="9.9" fill="#0a0b0b"/>
<circle cx="1680.5" cy="816.4" r="9.9" fill="#0a0b0b"/>
<circle cx="1721.6" cy="817.0" r="9.9" fill="#0a0b0b"/>
<polyline points="1769.5,817.0 1803.9,815.0 1845.1,782.0 1886.2,791.5 1927.4,789.7 1968.5,785.0 2009.6,804.5 2050.8,816.0 2091.9,810.0 2133.1,774.3 2174.2,797.1 2235.9,830.0" fill="none" stroke="#0a0b0b" stroke-width="3.8" stroke-linejoin="round" stroke-linecap="round"/>
<circle cx="1803.9" cy="815.0" r="9.9" fill="#0a0b0b"/>
<circle cx="1845.1" cy="782.0" r="9.9" fill="#0a0b0b"/>
<circle cx="1886.2" cy="791.5" r="9.9" fill="#0a0b0b"/>
<circle cx="1927.4" cy="789.7" r="9.9" fill="#0a0b0b"/>
<circle cx="1968.5" cy="785.0" r="9.9" fill="#0a0b0b"/>
<circle cx="2009.6" cy="804.5" r="9.9" fill="#0a0b0b"/>
<circle cx="2050.8" cy="816.0" r="9.9" fill="#0a0b0b"/>
<circle cx="2091.9" cy="810.0" r="9.9" fill="#0a0b0b"/>
<circle cx="2133.1" cy="774.3" r="9.9" fill="#0a0b0b"/>
<circle cx="2174.2" cy="797.1" r="9.9" fill="#0a0b0b"/>
<circle cx="2235.9" cy="830.0" r="9.9" fill="#0a0b0b"/>
<polyline points="1769.5,817.0 1803.9,818.0 1845.1,804.5 1886.2,827.0 1927.4,827.0 1968.5,827.0 2009.6,840.0 2050.8,840.0 2091.9,842.6 2133.1,837.0 2174.2,855.6 2235.9,854.2" fill="none" stroke="#0a0b0b" stroke-width="3.8" stroke-linejoin="round" stroke-linecap="round"/>
<circle cx="1803.9" cy="818.0" r="9.9" fill="#0a0b0b"/>
<circle cx="1845.1" cy="804.5" r="9.9" fill="#0a0b0b"/>
<circle cx="1886.2" cy="827.0" r="9.9" fill="#0a0b0b"/>
<circle cx="1927.4" cy="827.0" r="9.9" fill="#0a0b0b"/>
<circle cx="1968.5" cy="827.0" r="9.9" fill="#0a0b0b"/>
<circle cx="2009.6" cy="840.0" r="9.9" fill="#0a0b0b"/>
<circle cx="2050.8" cy="840.0" r="9.9" fill="#0a0b0b"/>
<circle cx="2091.9" cy="842.6" r="9.9" fill="#0a0b0b"/>
<circle cx="2133.1" cy="837.0" r="9.9" fill="#0a0b0b"/>
<circle cx="2174.2" cy="855.6" r="9.9" fill="#0a0b0b"/>
<circle cx="2235.9" cy="854.2" r="9.9" fill="#0a0b0b"/>
<polyline points="1769.5,817.0 1803.9,820.0 1845.1,821.0 1886.2,843.6 1927.4,845.0 1968.5,860.0 2009.6,861.4 2050.8,867.2 2091.9,877.0 2133.1,858.5 2174.2,855.6 2235.9,854.2" fill="none" stroke="#0a0b0b" stroke-width="3.8" stroke-linejoin="round" stroke-linecap="round"/>
<circle cx="1803.9" cy="820.0" r="9.9" fill="#0a0b0b"/>
<circle cx="1845.1" cy="821.0" r="9.9" fill="#0a0b0b"/>
<circle cx="1886.2" cy="843.6" r="9.9" fill="#0a0b0b"/>
<circle cx="1927.4" cy="845.0" r="9.9" fill="#0a0b0b"/>
<circle cx="1968.5" cy="860.0" r="9.9" fill="#0a0b0b"/>
<circle cx="2009.6" cy="861.4" r="9.9" fill="#0a0b0b"/>
<circle cx="2050.8" cy="867.2" r="9.9" fill="#0a0b0b"/>
<circle cx="2091.9" cy="877.0" r="9.9" fill="#0a0b0b"/>
<circle cx="2133.1" cy="858.5" r="9.9" fill="#0a0b0b"/>
<circle cx="2174.2" cy="855.6" r="9.9" fill="#0a0b0b"/>
<circle cx="2235.9" cy="854.2" r="9.9" fill="#0a0b0b"/>
<polyline points="1769.5,817.0 1803.9,822.0 1845.1,835.0 1886.2,843.6 1927.4,862.0 1968.5,884.0 2009.6,861.4 2050.8,889.9 2091.9,877.0 2133.1,868.5 2174.2,855.6 2235.9,854.2" fill="none" stroke="#0a0b0b" stroke-width="3.8" stroke-linejoin="round" stroke-linecap="round"/>
<circle cx="1803.9" cy="822.0" r="9.9" fill="#0a0b0b"/>
<circle cx="1845.1" cy="835.0" r="9.9" fill="#0a0b0b"/>
<circle cx="1886.2" cy="843.6" r="9.9" fill="#0a0b0b"/>
<circle cx="1927.4" cy="862.0" r="9.9" fill="#0a0b0b"/>
<circle cx="1968.5" cy="884.0" r="9.9" fill="#0a0b0b"/>
<circle cx="2009.6" cy="861.4" r="9.9" fill="#0a0b0b"/>
<circle cx="2050.8" cy="889.9" r="9.9" fill="#0a0b0b"/>
<circle cx="2091.9" cy="877.0" r="9.9" fill="#0a0b0b"/>
<circle cx="2133.1" cy="868.5" r="9.9" fill="#0a0b0b"/>
<circle cx="2174.2" cy="855.6" r="9.9" fill="#0a0b0b"/>
<circle cx="2235.9" cy="854.2" r="9.9" fill="#0a0b0b"/>
<polyline points="1392.5,677.7 1433.7,709.7 1474.8,701.8 1515.9,651.7 1557.1,624.1 1598.2,717.9 1639.4,648.4 1680.5,786.2 1721.6,798.6 1769.5,817.0" fill="none" stroke="#0a0b0b" stroke-width="3.8" stroke-linejoin="round" stroke-linecap="round"/>
<rect x="1383.6" y="668.8" width="17.9" height="17.9" rx="0.8" fill="#fff" stroke="#0a0b0b" stroke-width="2.1" stroke-linejoin="round"/>
<rect x="1424.7" y="700.8" width="17.9" height="17.9" rx="0.8" fill="#fff" stroke="#0a0b0b" stroke-width="2.1" stroke-linejoin="round"/>
<rect x="1465.8" y="692.8" width="17.9" height="17.9" rx="0.8" fill="#fff" stroke="#0a0b0b" stroke-width="2.1" stroke-linejoin="round"/>
<rect x="1507.0" y="642.8" width="17.9" height="17.9" rx="0.8" fill="#fff" stroke="#0a0b0b" stroke-width="2.1" stroke-linejoin="round"/>
<rect x="1548.1" y="615.1" width="17.9" height="17.9" rx="0.8" fill="#fff" stroke="#0a0b0b" stroke-width="2.1" stroke-linejoin="round"/>
<rect x="1589.3" y="708.9" width="17.9" height="17.9" rx="0.8" fill="#fff" stroke="#0a0b0b" stroke-width="2.1" stroke-linejoin="round"/>
<rect x="1630.4" y="639.4" width="17.9" height="17.9" rx="0.8" fill="#fff" stroke="#0a0b0b" stroke-width="2.1" stroke-linejoin="round"/>
<rect x="1671.6" y="777.2" width="17.9" height="17.9" rx="0.8" fill="#fff" stroke="#0a0b0b" stroke-width="2.1" stroke-linejoin="round"/>
<rect x="1712.7" y="789.6" width="17.9" height="17.9" rx="0.8" fill="#fff" stroke="#0a0b0b" stroke-width="2.1" stroke-linejoin="round"/>
<polyline points="1392.5,801.6 1433.7,790.3 1474.8,771.9 1515.9,795.0 1557.1,790.3 1598.2,794.5 1639.4,811.6 1680.5,815.0 1721.6,816.0 1769.5,817.0" fill="none" stroke="#0a0b0b" stroke-width="3.8" stroke-linejoin="round" stroke-linecap="round"/>
<rect x="1383.6" y="792.6" width="17.9" height="17.9" rx="0.8" fill="#fff" stroke="#0a0b0b" stroke-width="2.1" stroke-linejoin="round"/>
<rect x="1424.7" y="781.3" width="17.9" height="17.9" rx="0.8" fill="#fff" stroke="#0a0b0b" stroke-width="2.1" stroke-linejoin="round"/>
<rect x="1465.8" y="762.9" width="17.9" height="17.9" rx="0.8" fill="#fff" stroke="#0a0b0b" stroke-width="2.1" stroke-linejoin="round"/>
<rect x="1507.0" y="786.0" width="17.9" height="17.9" rx="0.8" fill="#fff" stroke="#0a0b0b" stroke-width="2.1" stroke-linejoin="round"/>
<rect x="1548.1" y="781.3" width="17.9" height="17.9" rx="0.8" fill="#fff" stroke="#0a0b0b" stroke-width="2.1" stroke-linejoin="round"/>
<rect x="1589.3" y="785.5" width="17.9" height="17.9" rx="0.8" fill="#fff" stroke="#0a0b0b" stroke-width="2.1" stroke-linejoin="round"/>
<polyline points="1392.5,904.7 1433.7,936.0 1474.8,903.5 1515.9,873.3 1557.1,854.3 1598.2,843.6 1639.4,840.0 1680.5,874.5 1721.6,871.5 1769.5,817.0" fill="none" stroke="#0a0b0b" stroke-width="3.8" stroke-linejoin="round" stroke-linecap="round"/>
<rect x="1383.6" y="895.8" width="17.9" height="17.9" rx="0.8" fill="#fff" stroke="#0a0b0b" stroke-width="2.1" stroke-linejoin="round"/>
<rect x="1424.7" y="927.0" width="17.9" height="17.9" rx="0.8" fill="#fff" stroke="#0a0b0b" stroke-width="2.1" stroke-linejoin="round"/>
<rect x="1465.8" y="894.5" width="17.9" height="17.9" rx="0.8" fill="#fff" stroke="#0a0b0b" stroke-width="2.1" stroke-linejoin="round"/>
<rect x="1507.0" y="864.3" width="17.9" height="17.9" rx="0.8" fill="#fff" stroke="#0a0b0b" stroke-width="2.1" stroke-linejoin="round"/>
<rect x="1548.1" y="845.3" width="17.9" height="17.9" rx="0.8" fill="#fff" stroke="#0a0b0b" stroke-width="2.1" stroke-linejoin="round"/>
<rect x="1589.3" y="834.6" width="17.9" height="17.9" rx="0.8" fill="#fff" stroke="#0a0b0b" stroke-width="2.1" stroke-linejoin="round"/>
<rect x="1630.4" y="831.0" width="17.9" height="17.9" rx="0.8" fill="#fff" stroke="#0a0b0b" stroke-width="2.1" stroke-linejoin="round"/>
<rect x="1671.6" y="865.5" width="17.9" height="17.9" rx="0.8" fill="#fff" stroke="#0a0b0b" stroke-width="2.1" stroke-linejoin="round"/>
<rect x="1712.7" y="862.5" width="17.9" height="17.9" rx="0.8" fill="#fff" stroke="#0a0b0b" stroke-width="2.1" stroke-linejoin="round"/>
<polyline points="1392.5,821.1 1433.7,808.1 1474.8,816.4 1515.9,863.8 1557.1,846.0 1598.2,836.5 1639.4,837.1 1680.5,830.0 1721.6,834.8 1769.5,817.0" fill="none" stroke="#0a0b0b" stroke-width="3.8" stroke-linejoin="round" stroke-linecap="round"/>
<rect x="1383.6" y="812.1" width="17.9" height="17.9" rx="0.8" fill="#fff" stroke="#0a0b0b" stroke-width="2.1" stroke-linejoin="round"/>
<rect x="1424.7" y="799.1" width="17.9" height="17.9" rx="0.8" fill="#fff" stroke="#0a0b0b" stroke-width="2.1" stroke-linejoin="round"/>
<rect x="1465.8" y="807.4" width="17.9" height="17.9" rx="0.8" fill="#fff" stroke="#0a0b0b" stroke-width="2.1" stroke-linejoin="round"/>
<rect x="1507.0" y="854.8" width="17.9" height="17.9" rx="0.8" fill="#fff" stroke="#0a0b0b" stroke-width="2.1" stroke-linejoin="round"/>
<rect x="1548.1" y="837.0" width="17.9" height="17.9" rx="0.8" fill="#fff" stroke="#0a0b0b" stroke-width="2.1" stroke-linejoin="round"/>
<rect x="1589.3" y="827.5" width="17.9" height="17.9" rx="0.8" fill="#fff" stroke="#0a0b0b" stroke-width="2.1" stroke-linejoin="round"/>
<rect x="1630.4" y="828.1" width="17.9" height="17.9" rx="0.8" fill="#fff" stroke="#0a0b0b" stroke-width="2.1" stroke-linejoin="round"/>
<rect x="1671.6" y="821.0" width="17.9" height="17.9" rx="0.8" fill="#fff" stroke="#0a0b0b" stroke-width="2.1" stroke-linejoin="round"/>
<rect x="1712.7" y="825.8" width="17.9" height="17.9" rx="0.8" fill="#fff" stroke="#0a0b0b" stroke-width="2.1" stroke-linejoin="round"/>
<polyline points="1392.5,987.0 1433.7,968.0 1474.8,816.4 1515.9,840.0 1557.1,822.0 1598.2,808.0 1639.4,837.5 1680.5,817.0 1721.6,817.0 1769.5,817.0" fill="none" stroke="#0a0b0b" stroke-width="3.8" stroke-linejoin="round" stroke-linecap="round"/>
<rect x="1383.6" y="978.0" width="17.9" height="17.9" rx="0.8" fill="#fff" stroke="#0a0b0b" stroke-width="2.1" stroke-linejoin="round"/>
<rect x="1424.7" y="959.0" width="17.9" height="17.9" rx="0.8" fill="#fff" stroke="#0a0b0b" stroke-width="2.1" stroke-linejoin="round"/>
<rect x="1465.8" y="807.4" width="17.9" height="17.9" rx="0.8" fill="#fff" stroke="#0a0b0b" stroke-width="2.1" stroke-linejoin="round"/>
<rect x="1589.3" y="799.0" width="17.9" height="17.9" rx="0.8" fill="#fff" stroke="#0a0b0b" stroke-width="2.1" stroke-linejoin="round"/>
<rect x="1630.4" y="828.5" width="17.9" height="17.9" rx="0.8" fill="#fff" stroke="#0a0b0b" stroke-width="2.1" stroke-linejoin="round"/>
<polyline points="1769.5,817.0 1803.9,805.7 1845.1,855.5 1886.2,878.6 1927.4,850.0 1968.5,866.2 2009.6,940.0 2050.8,870.0 2091.9,868.5 2133.1,886.3 2174.2,921.3 2235.9,885.6" fill="none" stroke="#0a0b0b" stroke-width="3.8" stroke-linejoin="round" stroke-linecap="round"/>
<rect x="1795.0" y="796.8" width="17.9" height="17.9" rx="0.8" fill="#fff" stroke="#0a0b0b" stroke-width="2.1" stroke-linejoin="round"/>
<rect x="1836.1" y="846.5" width="17.9" height="17.9" rx="0.8" fill="#fff" stroke="#0a0b0b" stroke-width="2.1" stroke-linejoin="round"/>
<rect x="1877.3" y="869.6" width="17.9" height="17.9" rx="0.8" fill="#fff" stroke="#0a0b0b" stroke-width="2.1" stroke-linejoin="round"/>
<rect x="1959.5" y="857.2" width="17.9" height="17.9" rx="0.8" fill="#fff" stroke="#0a0b0b" stroke-width="2.1" stroke-linejoin="round"/>
<rect x="2000.7" y="931.0" width="17.9" height="17.9" rx="0.8" fill="#fff" stroke="#0a0b0b" stroke-width="2.1" stroke-linejoin="round"/>
<rect x="2041.8" y="861.0" width="17.9" height="17.9" rx="0.8" fill="#fff" stroke="#0a0b0b" stroke-width="2.1" stroke-linejoin="round"/>
<rect x="2083.0" y="859.5" width="17.9" height="17.9" rx="0.8" fill="#fff" stroke="#0a0b0b" stroke-width="2.1" stroke-linejoin="round"/>
<rect x="2124.1" y="877.3" width="17.9" height="17.9" rx="0.8" fill="#fff" stroke="#0a0b0b" stroke-width="2.1" stroke-linejoin="round"/>
<rect x="2165.3" y="912.3" width="17.9" height="17.9" rx="0.8" fill="#fff" stroke="#0a0b0b" stroke-width="2.1" stroke-linejoin="round"/>
<rect x="2227.0" y="876.6" width="17.9" height="17.9" rx="0.8" fill="#fff" stroke="#0a0b0b" stroke-width="2.1" stroke-linejoin="round"/>
<polyline points="1769.5,817.0 1803.9,830.0 1845.1,868.5 1886.2,920.1 1927.4,862.0 1968.5,860.0 2009.6,862.0 2050.8,915.5 2091.9,868.5 2133.1,886.3 2174.2,838.5 2235.9,879.2" fill="none" stroke="#0a0b0b" stroke-width="3.8" stroke-linejoin="round" stroke-linecap="round"/>
<rect x="1795.0" y="821.0" width="17.9" height="17.9" rx="0.8" fill="#fff" stroke="#0a0b0b" stroke-width="2.1" stroke-linejoin="round"/>
<rect x="1836.1" y="859.5" width="17.9" height="17.9" rx="0.8" fill="#fff" stroke="#0a0b0b" stroke-width="2.1" stroke-linejoin="round"/>
<rect x="1877.3" y="911.1" width="17.9" height="17.9" rx="0.8" fill="#fff" stroke="#0a0b0b" stroke-width="2.1" stroke-linejoin="round"/>
<rect x="1918.4" y="853.0" width="17.9" height="17.9" rx="0.8" fill="#fff" stroke="#0a0b0b" stroke-width="2.1" stroke-linejoin="round"/>
<rect x="2000.7" y="853.0" width="17.9" height="17.9" rx="0.8" fill="#fff" stroke="#0a0b0b" stroke-width="2.1" stroke-linejoin="round"/>
<rect x="2041.8" y="906.5" width="17.9" height="17.9" rx="0.8" fill="#fff" stroke="#0a0b0b" stroke-width="2.1" stroke-linejoin="round"/>
<rect x="2083.0" y="859.5" width="17.9" height="17.9" rx="0.8" fill="#fff" stroke="#0a0b0b" stroke-width="2.1" stroke-linejoin="round"/>
<rect x="2124.1" y="877.3" width="17.9" height="17.9" rx="0.8" fill="#fff" stroke="#0a0b0b" stroke-width="2.1" stroke-linejoin="round"/>
<rect x="2165.3" y="829.5" width="17.9" height="17.9" rx="0.8" fill="#fff" stroke="#0a0b0b" stroke-width="2.1" stroke-linejoin="round"/>
<rect x="2227.0" y="870.2" width="17.9" height="17.9" rx="0.8" fill="#fff" stroke="#0a0b0b" stroke-width="2.1" stroke-linejoin="round"/>
<polyline points="1769.5,817.0 1803.9,817.0 1845.1,828.0 1886.2,835.0 1927.4,840.0 1968.5,838.0 2009.6,836.0 2050.8,827.0 2091.9,830.3 2133.1,819.2 2174.2,822.1 2235.9,817.8" fill="none" stroke="#0a0b0b" stroke-width="3.8" stroke-linejoin="round" stroke-linecap="round"/>
<rect x="2041.8" y="818.0" width="17.9" height="17.9" rx="0.8" fill="#fff" stroke="#0a0b0b" stroke-width="2.1" stroke-linejoin="round"/>
<rect x="2124.1" y="810.2" width="17.9" height="17.9" rx="0.8" fill="#fff" stroke="#0a0b0b" stroke-width="2.1" stroke-linejoin="round"/>
<rect x="2165.3" y="813.1" width="17.9" height="17.9" rx="0.8" fill="#fff" stroke="#0a0b0b" stroke-width="2.1" stroke-linejoin="round"/>
<rect x="2227.0" y="808.8" width="17.9" height="17.9" rx="0.8" fill="#fff" stroke="#0a0b0b" stroke-width="2.1" stroke-linejoin="round"/>
<polyline points="1769.5,817.0 1803.9,780.8 1845.1,835.0 1886.2,804.5 1927.4,830.0 1968.5,835.3 2009.6,834.2 2050.8,805.7 2091.9,830.3 2133.1,792.8 2174.2,764.6 2235.9,754.3" fill="none" stroke="#0a0b0b" stroke-width="3.8" stroke-linejoin="round" stroke-linecap="round"/>
<rect x="1795.0" y="771.8" width="17.9" height="17.9" rx="0.8" fill="#fff" stroke="#0a0b0b" stroke-width="2.1" stroke-linejoin="round"/>
<rect x="1959.5" y="826.3" width="17.9" height="17.9" rx="0.8" fill="#fff" stroke="#0a0b0b" stroke-width="2.1" stroke-linejoin="round"/>
<rect x="2000.7" y="825.2" width="17.9" height="17.9" rx="0.8" fill="#fff" stroke="#0a0b0b" stroke-width="2.1" stroke-linejoin="round"/>
<rect x="2041.8" y="796.8" width="17.9" height="17.9" rx="0.8" fill="#fff" stroke="#0a0b0b" stroke-width="2.1" stroke-linejoin="round"/>
<rect x="2083.0" y="821.3" width="17.9" height="17.9" rx="0.8" fill="#fff" stroke="#0a0b0b" stroke-width="2.1" stroke-linejoin="round"/>
<rect x="2124.1" y="783.8" width="17.9" height="17.9" rx="0.8" fill="#fff" stroke="#0a0b0b" stroke-width="2.1" stroke-linejoin="round"/>
<rect x="2165.3" y="755.6" width="17.9" height="17.9" rx="0.8" fill="#fff" stroke="#0a0b0b" stroke-width="2.1" stroke-linejoin="round"/>
<rect x="2227.0" y="745.3" width="17.9" height="17.9" rx="0.8" fill="#fff" stroke="#0a0b0b" stroke-width="2.1" stroke-linejoin="round"/>
<circle cx="580.5" cy="814.5" r="9.9" fill="#0a0b0b"/>
<circle cx="1721.6" cy="817.0" r="9.9" fill="#0a0b0b"/>
<circle cx="1515.9" cy="837.7" r="9.9" fill="#0a0b0b"/>
<circle cx="1515.9" cy="850.8" r="9.9" fill="#0a0b0b"/>
<circle cx="1557.1" cy="809.3" r="9.9" fill="#0a0b0b"/>
<circle cx="1557.1" cy="828.2" r="9.9" fill="#0a0b0b"/>
<circle cx="1598.2" cy="817.6" r="9.9" fill="#0a0b0b"/>
<circle cx="1639.4" cy="811.6" r="9.9" fill="#0a0b0b"/>
<circle cx="1680.5" cy="816.4" r="9.9" fill="#0a0b0b"/>
<circle cx="1680.5" cy="833.0" r="9.9" fill="#0a0b0b"/>
<circle cx="1845.1" cy="804.5" r="9.9" fill="#0a0b0b"/>
<circle cx="1845.1" cy="821.0" r="9.9" fill="#0a0b0b"/>
<circle cx="1845.1" cy="835.0" r="9.9" fill="#0a0b0b"/>
<circle cx="1886.2" cy="791.5" r="9.9" fill="#0a0b0b"/>
<circle cx="1886.2" cy="827.0" r="9.9" fill="#0a0b0b"/>
<circle cx="1886.2" cy="843.6" r="9.9" fill="#0a0b0b"/>
<circle cx="1927.4" cy="830.0" r="9.9" fill="#0a0b0b"/>
<circle cx="1927.4" cy="845.0" r="9.9" fill="#0a0b0b"/>
<circle cx="1927.4" cy="860.0" r="9.9" fill="#0a0b0b"/>
<circle cx="1968.5" cy="884.0" r="9.9" fill="#0a0b0b"/>
<circle cx="2009.6" cy="861.4" r="9.9" fill="#0a0b0b"/>
<circle cx="2050.8" cy="867.4" r="9.9" fill="#0a0b0b"/>
<circle cx="2050.8" cy="889.9" r="9.9" fill="#0a0b0b"/>
<circle cx="2133.1" cy="837.0" r="9.9" fill="#0a0b0b"/>
<circle cx="2133.1" cy="858.5" r="9.9" fill="#0a0b0b"/>
<rect x="1671.6" y="777.2" width="17.9" height="17.9" rx="0.8" fill="#fff" stroke="#0a0b0b" stroke-width="2.1" stroke-linejoin="round"/>
<rect x="1959.5" y="826.3" width="17.9" height="17.9" rx="0.8" fill="#fff" stroke="#0a0b0b" stroke-width="2.1" stroke-linejoin="round"/>
<rect x="2000.7" y="825.2" width="17.9" height="17.9" rx="0.8" fill="#fff" stroke="#0a0b0b" stroke-width="2.1" stroke-linejoin="round"/>
<rect x="2041.8" y="818.0" width="17.9" height="17.9" rx="0.8" fill="#fff" stroke="#0a0b0b" stroke-width="2.1" stroke-linejoin="round"/>
<rect x="2083.0" y="821.3" width="17.9" height="17.9" rx="0.8" fill="#fff" stroke="#0a0b0b" stroke-width="2.1" stroke-linejoin="round"/>
<rect x="2083.0" y="859.5" width="17.9" height="17.9" rx="0.8" fill="#fff" stroke="#0a0b0b" stroke-width="2.1" stroke-linejoin="round"/>
<rect x="2124.1" y="877.3" width="17.9" height="17.9" rx="0.8" fill="#fff" stroke="#0a0b0b" stroke-width="2.1" stroke-linejoin="round"/>
<rect x="2165.3" y="829.5" width="17.9" height="17.9" rx="0.8" fill="#fff" stroke="#0a0b0b" stroke-width="2.1" stroke-linejoin="round"/>
<rect x="2227.0" y="808.8" width="17.9" height="17.9" rx="0.8" fill="#fff" stroke="#0a0b0b" stroke-width="2.1" stroke-linejoin="round"/>
</g></svg>
</body></html>
